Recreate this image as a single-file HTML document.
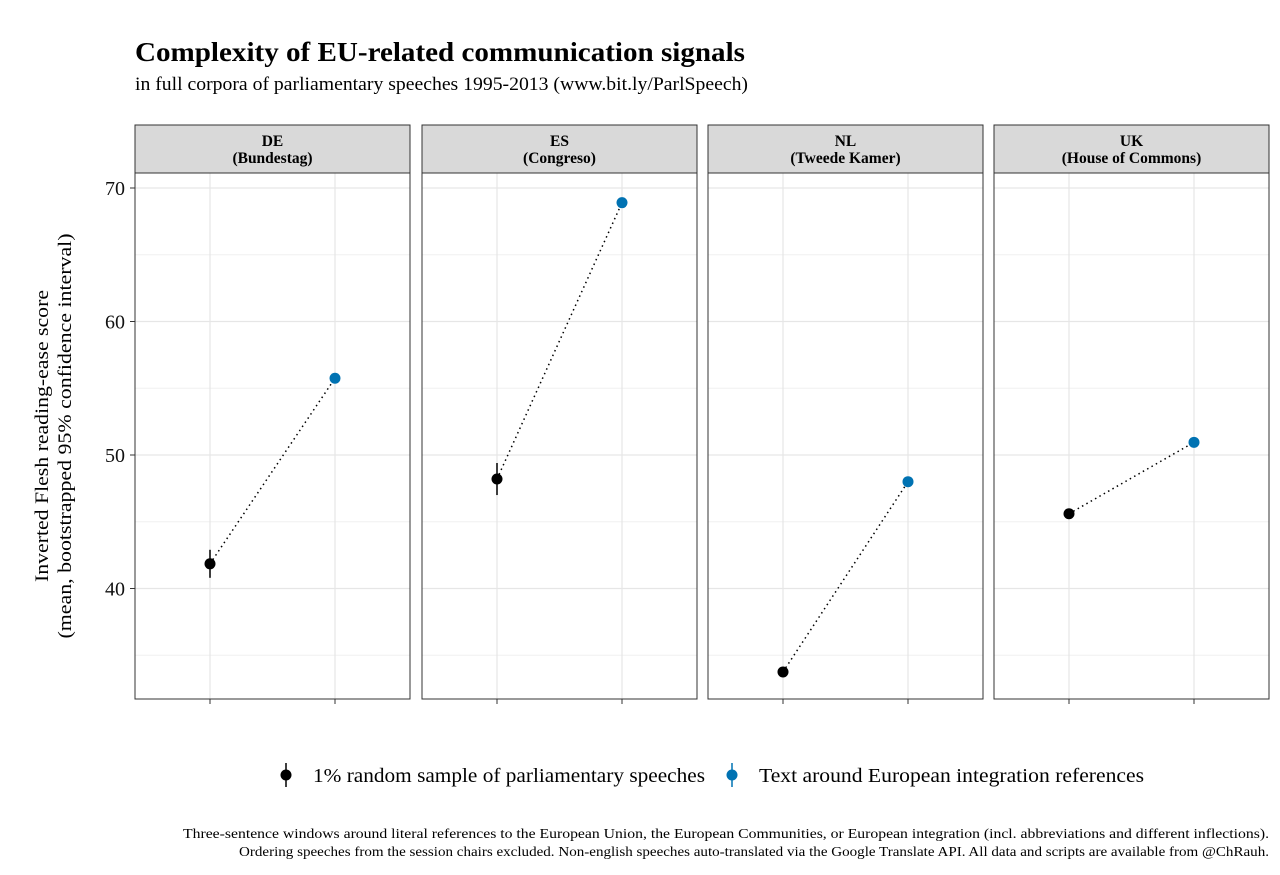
<!DOCTYPE html>
<html><head><meta charset="utf-8">
<style>
body{margin:0;background:#fff;font-family:"Liberation Serif",serif;}
svg text{font-family:"Liberation Serif",serif;}
</style></head>
<body>
<svg id="chart" width="1280" height="870" xmlns="http://www.w3.org/2000/svg">
<text x="135" y="61" font-size="27" font-weight="bold" textLength="610" lengthAdjust="spacingAndGlyphs">Complexity of EU-related communication signals</text>
<text x="135" y="90" font-size="19" textLength="613" lengthAdjust="spacingAndGlyphs">in full corpora of parliamentary speeches 1995-2013 (www.bit.ly/ParlSpeech)</text>
<g transform="translate(48,436) rotate(-90)">
<text x="0" y="0" font-size="19" text-anchor="middle" textLength="292" lengthAdjust="spacingAndGlyphs">Inverted Flesh reading-ease score</text>
<text x="0" y="23" font-size="19" text-anchor="middle" textLength="405" lengthAdjust="spacingAndGlyphs">(mean, bootstrapped 95% confidence interval)</text>
</g>
<g id="panels"></g>
<g>
<g>
<line x1="286" y1="763" x2="286" y2="787" stroke="#000" stroke-width="1.5"/><circle cx="286" cy="775" r="5.5" fill="#000"/>
<text x="313" y="782" font-size="20" textLength="392" lengthAdjust="spacingAndGlyphs">1% random sample of parliamentary speeches</text></g>
<g>
<line x1="732" y1="763" x2="732" y2="787" stroke="#0072b2" stroke-width="1.5"/><circle cx="732" cy="775" r="5.5" fill="#0072b2"/>
<text x="759" y="782" font-size="20" textLength="385" lengthAdjust="spacingAndGlyphs">Text around European integration references</text></g>
</g>
<g font-size="14" text-anchor="end">
<text x="1269" y="838" textLength="1086" lengthAdjust="spacingAndGlyphs">Three-sentence windows around literal references to the European Union, the European Communities, or European integration (incl. abbreviations and different inflections).</text>
<text x="1269" y="856" textLength="1030" lengthAdjust="spacingAndGlyphs">Ordering speeches from the session chairs excluded. Non-english speeches auto-translated via the Google Translate API. All data and scripts are available from @ChRauh.</text>
</g>
</svg>
<script>
const panelLabels = ["DE","ES","NL","UK"];
const panelSubs = ["(Bundestag)","(Congreso)","(Tweede Kamer)","(House of Commons)"];
const randomMean = [41.85, 48.2, 33.75, 45.6];
const randomLo = [40.8, 47.0, 33.5, 45.4];
const randomHi = [42.9, 49.4, 34.0, 45.8];
const euMean = [55.75, 68.9, 48.0, 50.95];
const euLo = [55.5, 68.7, 47.8, 50.75];
const euHi = [56.0, 69.1, 48.2, 51.15];
const yTicks = [40, 50, 60, 70];
const yMinor = [35, 45, 55, 65];

const NS = "http://www.w3.org/2000/svg";
const panelX0 = [135, 422, 708, 994], panelW = 275;
const plotTop = 173, plotBot = 699;
function yScale(v){ return 455 - (v - 50) * 13.35; }
function xScale(p, cat){ return panelX0[p] + panelW * ((cat + 1) - 0.4) / 2.2; }
const g = document.getElementById('panels');
function mk(tag, attrs, parent){ const e = document.createElementNS(NS, tag); for (const k in attrs) e.setAttribute(k, attrs[k]); (parent||g).appendChild(e); return e; }

yTicks.forEach(t=>{
  const tx = mk('text',{x:125,y:yScale(t)+7,'font-size':20,'text-anchor':'end',fill:'#111'});
  tx.textContent = t;
  
  
  mk('line',{x1:130,x2:135,y1:yScale(t),y2:yScale(t),stroke:'#333'});
});

panelLabels.forEach((lab,p)=>{
  const x0 = panelX0[p];
  const pg = mk('g',{});
  
  
  mk('rect',{x:x0,y:125,width:panelW,height:48,fill:'#d9d9d9',stroke:'#333','stroke-width':1},pg);
  const t1 = mk('text',{x:x0+panelW/2,y:146,'font-size':15.5,'font-weight':'bold','text-anchor':'middle'},pg);
  t1.textContent = lab;
  const t2 = mk('text',{x:x0+panelW/2,y:163,'font-size':15.5,'font-weight':'bold','text-anchor':'middle'},pg);
  t2.textContent = panelSubs[p];
  yMinor.forEach(t=>mk('line',{x1:x0,x2:x0+panelW,y1:yScale(t),y2:yScale(t),stroke:'#f0f0f0','stroke-width':1},pg));
  yTicks.forEach(t=>mk('line',{x1:x0,x2:x0+panelW,y1:yScale(t),y2:yScale(t),stroke:'#e6e6e6','stroke-width':1.2},pg));
  [0,1].forEach(c=>{
    mk('line',{x1:xScale(p,c),x2:xScale(p,c),y1:plotTop,y2:plotBot,stroke:'#e6e6e6','stroke-width':1.2},pg);
    mk('line',{x1:xScale(p,c),x2:xScale(p,c),y1:plotBot,y2:plotBot+5,stroke:'#333'},pg);
  });
  mk('rect',{x:x0,y:plotTop,width:panelW,height:plotBot-plotTop,fill:'none',stroke:'#333','stroke-width':1},pg);
  mk('line',{x1:xScale(p,0),y1:yScale(randomMean[p]),x2:xScale(p,1),y2:yScale(euMean[p]),stroke:'#000','stroke-width':1.5,'stroke-dasharray':'1.5,3.5'},pg);
  mk('line',{x1:xScale(p,0),x2:xScale(p,0),y1:yScale(randomLo[p]),y2:yScale(randomHi[p]),stroke:'#000','stroke-width':1.5},pg);
  mk('line',{x1:xScale(p,1),x2:xScale(p,1),y1:yScale(euLo[p]),y2:yScale(euHi[p]),stroke:'#0072b2','stroke-width':1.5},pg);
  const c1 = mk('circle',{cx:xScale(p,0),cy:yScale(randomMean[p]),r:5.5,fill:'#000'},pg);
  
  
  const c2 = mk('circle',{cx:xScale(p,1),cy:yScale(euMean[p]),r:5.5,fill:'#0072b2'},pg);
  
  
});
</script>
</body></html>
